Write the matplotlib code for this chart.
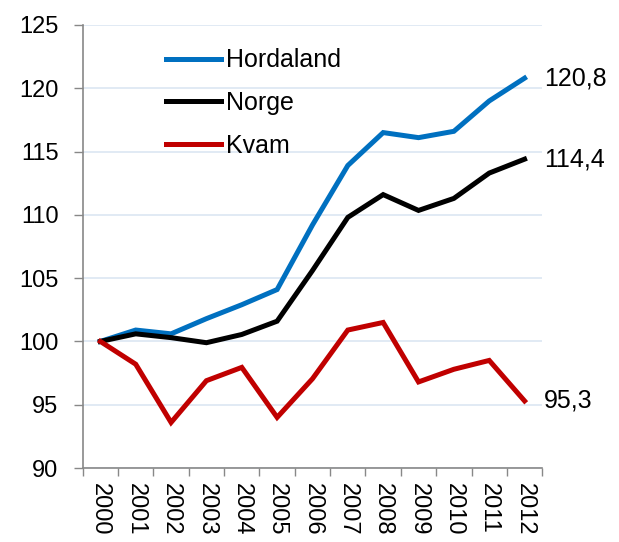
import numpy as np
import matplotlib
matplotlib.use('Agg')
import matplotlib.pyplot as plt

plt.rcParams['font.family'] = ['Liberation Sans', 'DejaVu Sans']

years = ['2000', '2001', '2002', '2003', '2004', '2005', '2006',
         '2007', '2008', '2009', '2010', '2011', '2012']
hordaland = [100, 100.9, 100.6, 101.8, 102.9, 104.1, 109.2, 113.9, 116.5, 116.1, 116.6, 119.0, 120.8]
norge = [100, 100.6, 100.3, 99.9, 100.55, 101.6, 105.6, 109.8, 111.6, 110.35, 111.3, 113.3, 114.4]
kvam = [100, 98.2, 93.6, 96.9, 97.95, 94.0, 97.05, 100.9, 101.5, 96.8, 97.8, 98.5, 95.3]
end_labels = ['120,8', '114,4', '95,3']

series = [('Hordaland', hordaland, '#0070C0'),
          ('Norge', norge, '#000000'),
          ('Kvam', kvam, '#C00000')]

fig = plt.figure(figsize=(6.19, 5.42), dpi=100)
ax = fig.add_axes([0.1336, 0.1365, 0.7424, 0.8174])

x = np.arange(len(years))
for (name, vals, col), lab in zip(series, end_labels):
    ax.plot(x, vals, color=col, lw=3.6, label=name, solid_joinstyle='miter')
    ax.annotate(lab, (x[-1], vals[-1]), xytext=(14, 0), textcoords='offset points',
                va='center', ha='left', fontsize=18)

ax.set_xlim(-0.5, len(years) - 0.5)
ax.set_ylim(90, 125)
ax.set_yticks(np.arange(90, 126, 5))
ax.set_xticks(x)
ax.set_xticklabels(years, rotation=270, fontsize=17)
ax.set_xticks(np.arange(-0.5, len(years), 1), minor=True)
ax.tick_params(axis='x', which='major', length=0, pad=11)
ax.tick_params(axis='x', which='minor', length=6, color='#888888', width=1)
ax.tick_params(axis='y', length=6.5, color='#888888', width=1, labelsize=17, pad=11)

ax.grid(axis='y', color='#DCE6F2', lw=1.2)
ax.set_axisbelow(True)
for s in ['top', 'right']:
    ax.spines[s].set_visible(False)
for s in ['left', 'bottom']:
    ax.spines[s].set_color('#888888')
    ax.spines[s].set_linewidth(1.2)

ax.legend(loc='upper left', bbox_to_anchor=(0.16, 0.97), frameon=False, fontsize=18,
          handlelength=2.2, handletextpad=0.2, labelspacing=0.75, borderaxespad=0)

fig.savefig('out.png', dpi=100)
